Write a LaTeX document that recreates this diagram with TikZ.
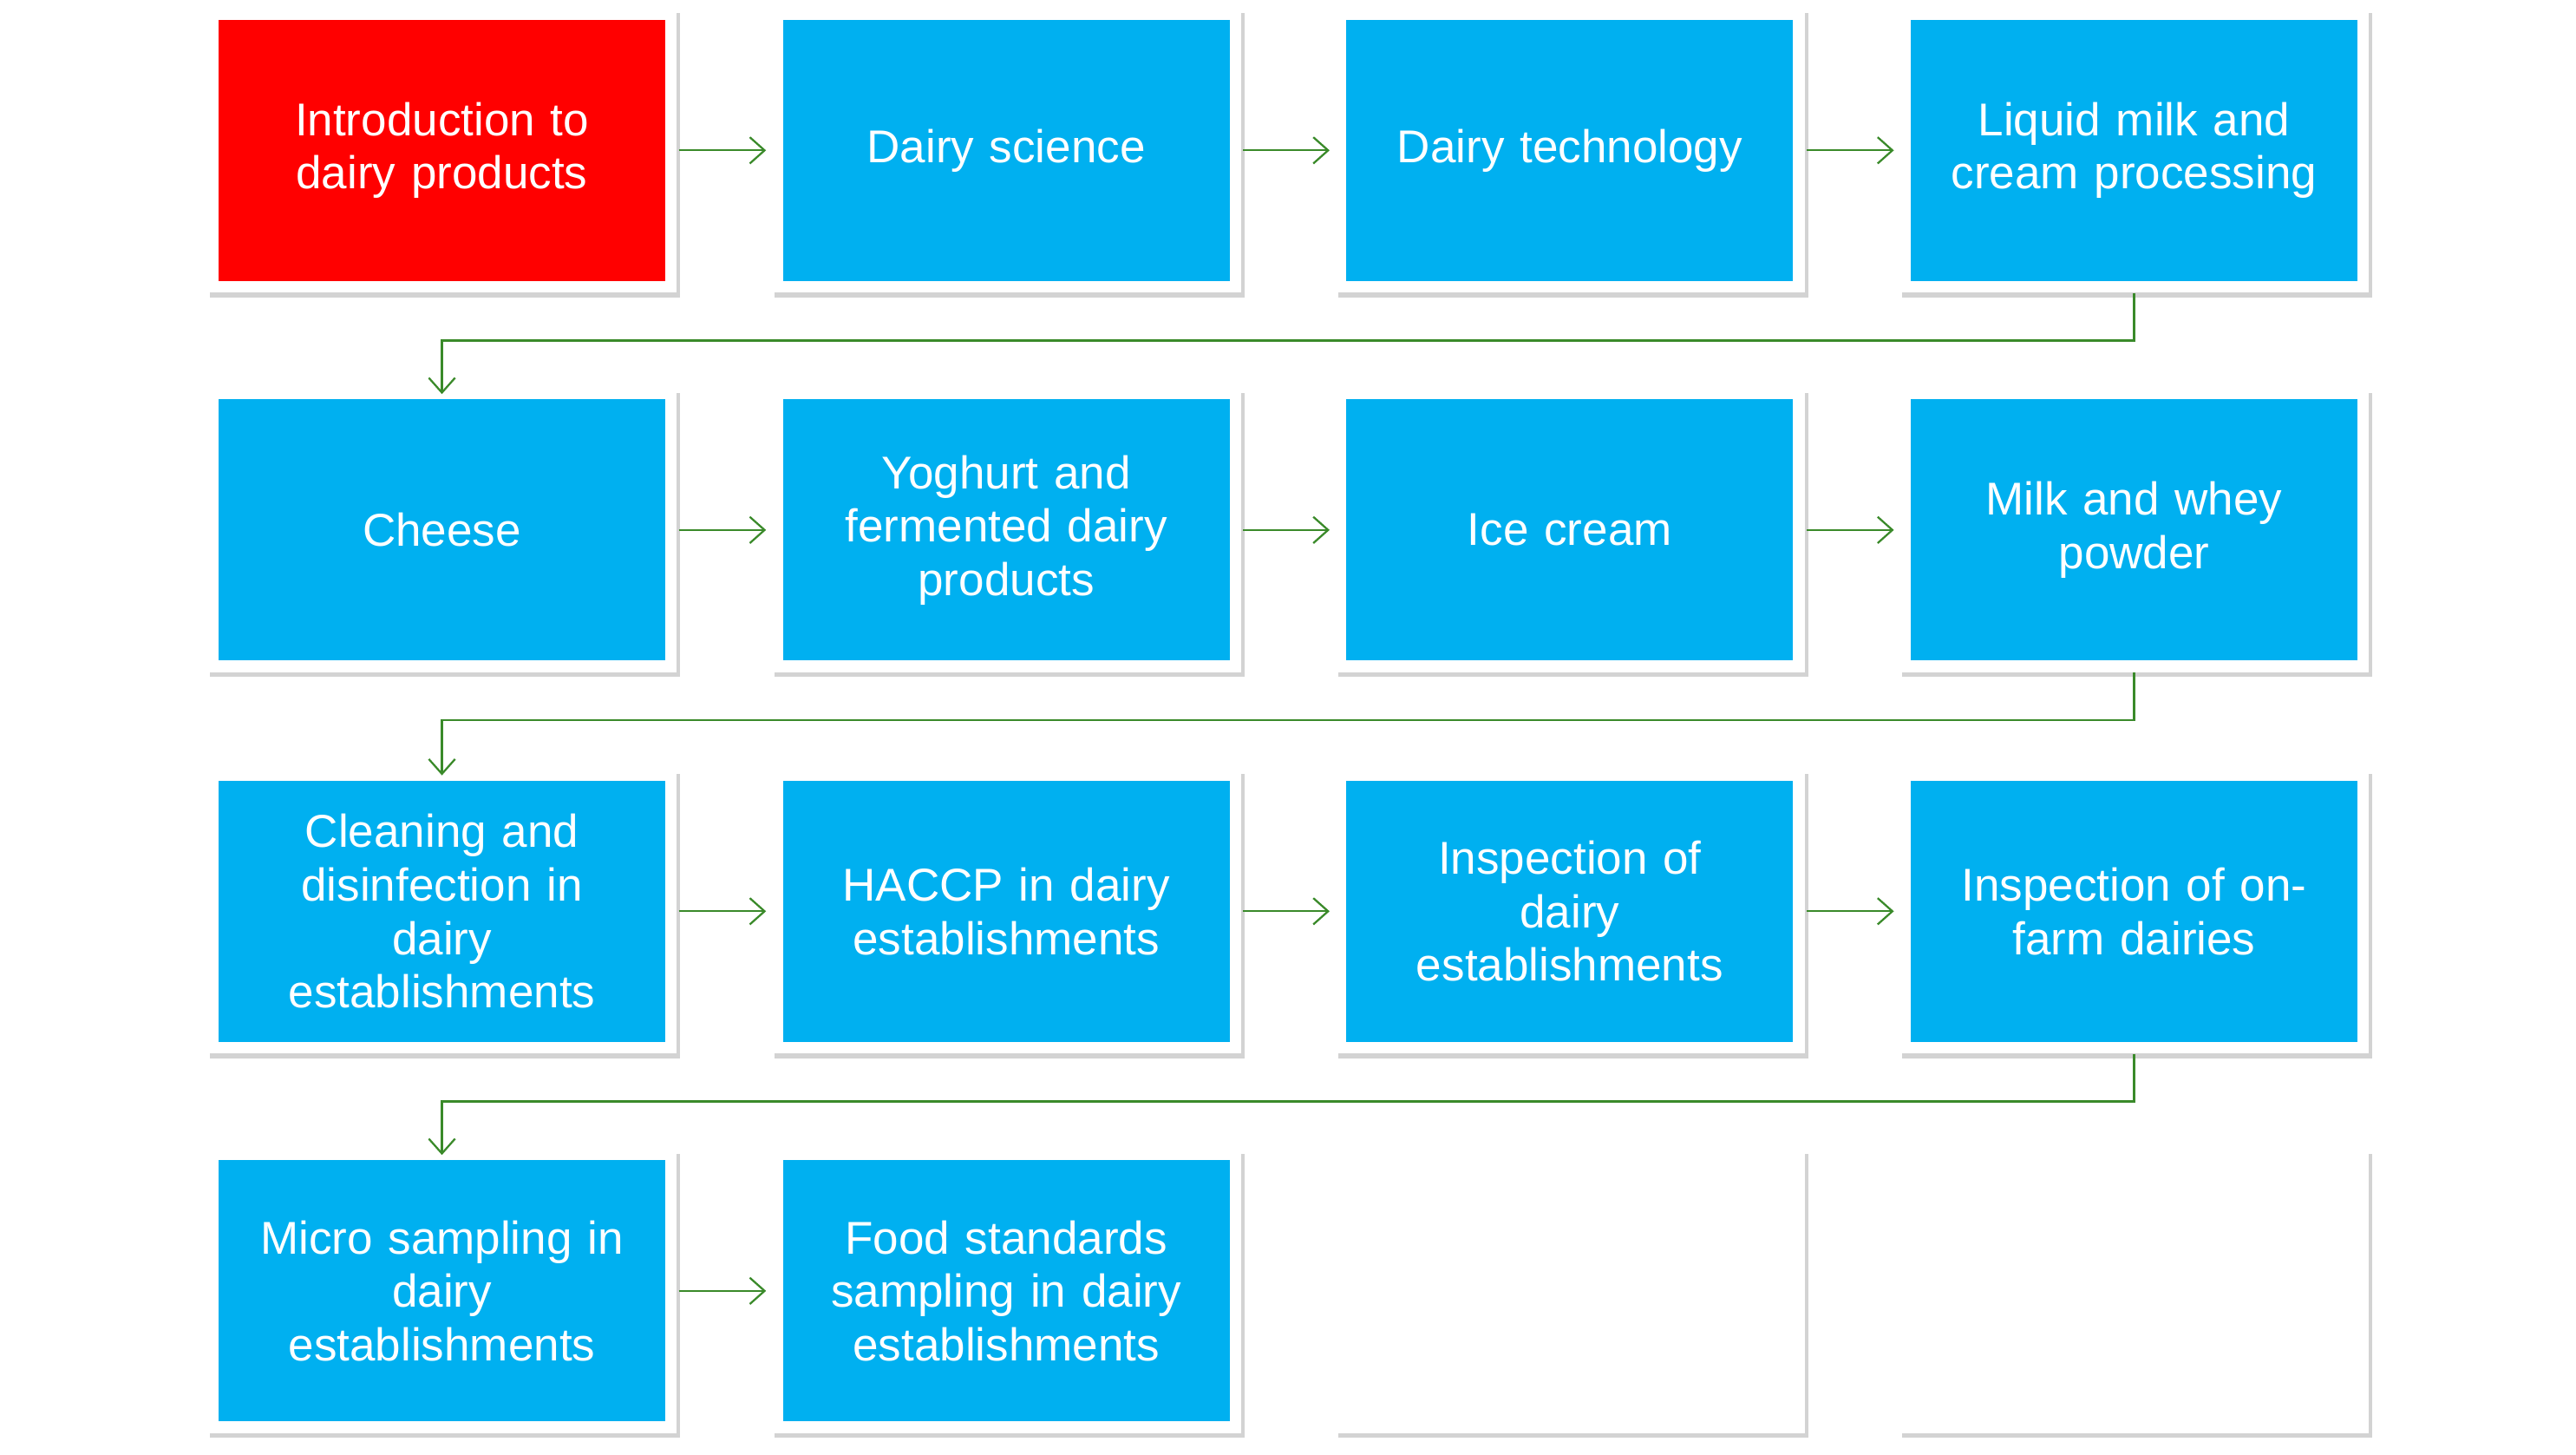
\documentclass[tikz,border=0pt]{standalone}
\usepackage{fontspec}
\setmainfont{Liberation Sans}
\usetikzlibrary{shadows,arrows.meta}
\definecolor{boxblue}{HTML}{00B0F0}
\definecolor{boxred}{HTML}{FF0000}
\definecolor{lnk}{HTML}{3A8A2A}
\tikzset{
  outerbox/.style={fill=white,minimum width=286pt,minimum height=173pt,inner sep=0pt,
    drop shadow={shadow xshift=2pt,shadow yshift=-3pt,opacity=0.35,fill=gray}},
  card/.style={fill=boxblue,minimum width=272pt,minimum height=159pt,inner sep=0pt,
    text=white,align=center,text width=262pt,font=\fontsize{28}{32.5}\selectfont},
  link/.style={draw=lnk,line width=1.2pt,-{Straight Barb[length=9pt,width=16pt]}}
}
\begin{document}
\begin{tikzpicture}[x=1pt,y=-1pt]
\useasboundingbox (0,0) rectangle (1568,885);
\def\cx{{269,612.5,955.5,1299}}
\foreach \r/\y in {1/91.5,2/322.5,3/554.5,4/785.5}{
  \foreach \c/\x in {1/269,2/612.5,3/955.5,4/1299}{
    \node[outerbox] (o\r\c) at (\x,\y) {};
  }
}
\node[card,fill=boxred] (b11) at (o11) {Introduction to\\dairy products};
\node[card] (b12) at (o12) {Dairy science};
\node[card] (b13) at (o13) {Dairy technology};
\node[card] (b14) at (o14) {Liquid milk and\\cream processing};
\node[card] (b21) at (o21) {Cheese};
\node[card] (b22) at (o22) {Yoghurt and\\fermented dairy\\products};
\node[card] (b23) at (o23) {Ice cream};
\node[card] (b24) at (o24) {Milk and whey\\powder};
\node[card] (b31) at (o31) {Cleaning and\\disinfection in\\dairy\\establishments};
\node[card] (b32) at (o32) {HACCP in dairy\\establishments};
\node[card] (b33) at (o33) {Inspection of\\dairy\\establishments};
\node[card] (b34) at (o34) {Inspection of on-\\farm dairies};
\node[card] (b41) at (o41) {Micro sampling in\\dairy\\establishments};
\node[card] (b42) at (o42) {Food standards\\sampling in dairy\\establishments};
\foreach \r in {1,2,3}{
  \draw[link] ([xshift=1pt]o\r1.east) -- ([xshift=-3pt]o\r2.west);
  \draw[link] ([xshift=1pt]o\r2.east) -- ([xshift=-3pt]o\r3.west);
  \draw[link] ([xshift=1pt]o\r3.east) -- ([xshift=-3pt]o\r4.west);
}
\draw[link] ([xshift=1pt]o41.east) -- ([xshift=-3pt]o42.west);
\draw[link] (o14.south) -- ++(0,29) -| ([yshift=-4pt]o21.north);
\draw[link] (o24.south) -- ++(0,29) -| ([yshift=-4pt]o31.north);
\draw[link] (o34.south) -- ++(0,29) -| ([yshift=-4pt]o41.north);
\end{tikzpicture}
\end{document}
